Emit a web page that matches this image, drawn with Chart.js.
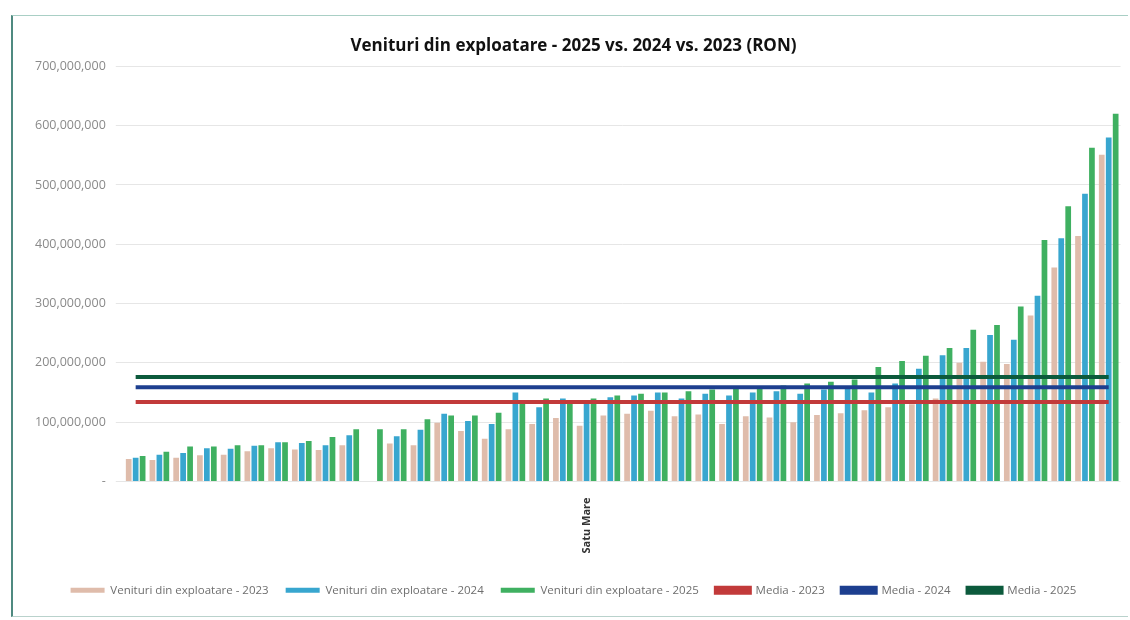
<!DOCTYPE html>
<html>
<head>
	<meta http-equiv="Content-Type" content="text/html; charset=utf-8">
	<title>Venituri din exploatare</title>
	<script src="https://cdn.jsdelivr.net/npm/chart.js@4"></script>
	<style>
		body { margin: 0; background: #ffffff; }
		#frame { position: absolute; left: 0; top: 0; width: 1130px; height: 620px; }
		#border { position: absolute; left: 11px; top: 15px; width: 1115px; height: 600px;
			border-left: 2px solid #4f8a80; border-top: 1px solid #a9cfc5; border-bottom: 1px solid #b9d2cc; }
	</style>
</head>
<body>
<div id="border"></div>
<div id="frame"><canvas id="chart" width="1130" height="620"></canvas></div>

<script>
// 42 categories (sorted by 2025 revenue), only one label readable
const categories = [
	"", "", "", "", "", "", "", "", "", "", "", "", "", "", "",
	"", "", "", "", "Satu Mare", "", "", "", "", "", "", "", "", "", "",
	"", "", "", "", "", "", "", "", "", "", "", ""
];

// values in RON
const venituri2023 = [
	38e6, 36e6, 40e6, 44e6, 45e6, 51e6, 56e6, 54e6, 53e6, 61e6,
	null, 64e6, 61e6, 99e6, 85e6, 72e6, 88e6, 97e6, 107e6, 94e6,
	111e6, 114e6, 119e6, 110e6, 113e6, 97e6, 110e6, 108e6, 100e6, 112e6,
	115e6, 120e6, 125e6, 130e6, 140e6, 200e6, 202e6, 198e6, 280e6, 361e6,
	414e6, 551e6
];
const venituri2024 = [
	40e6, 45e6, 48e6, 56e6, 55e6, 60e6, 66e6, 65e6, 61e6, 78e6,
	null, 76e6, 87e6, 114e6, 102e6, 97e6, 150e6, 125e6, 140e6, 135e6,
	142e6, 145e6, 150e6, 140e6, 148e6, 145e6, 150e6, 152e6, 148e6, 155e6,
	158e6, 150e6, 165e6, 190e6, 213e6, 225e6, 247e6, 239e6, 313e6, 410e6,
	485e6, 580e6
];
const venituri2025 = [
	43e6, 50e6, 59e6, 59e6, 61e6, 61e6, 66e6, 68e6, 75e6, 88e6,
	88e6, 88e6, 105e6, 111e6, 111e6, 116e6, 135e6, 140e6, 135e6, 140e6,
	145e6, 148e6, 150e6, 152e6, 155e6, 157e6, 160e6, 162e6, 165e6, 168e6,
	172e6, 193e6, 203e6, 212e6, 225e6, 256e6, 264e6, 295e6, 407e6, 464e6,
	563e6, 620e6
];

// averages (constant lines)
const media2023 = 134e6;
const media2024 = 159e6;
const media2025 = 176e6;

const yTicks = [0, 100e6, 200e6, 300e6, 400e6, 500e6, 600e6, 700e6];

function flat(v) {
	return Array(categories.length).fill(v);
}

const ctx = document.getElementById("chart");
new Chart(ctx, {
	type: "bar",
	data: {
		labels: categories,
		datasets: [
			{ label: "Venituri din exploatare - 2023", data: venituri2023,
			  backgroundColor: "#dfbcab", borderWidth: 0, order: 2 },
			{ label: "Venituri din exploatare - 2024", data: venituri2024,
			  backgroundColor: "#38a6cf", borderWidth: 0, order: 2 },
			{ label: "Venituri din exploatare - 2025", data: venituri2025,
			  backgroundColor: "#3fb061", borderWidth: 0, order: 2 },
			{ label: "Media - 2023", type: "line", data: flat(media2023),
			  borderColor: "#c23a3a", backgroundColor: "#c23a3a", borderWidth: 4, pointRadius: 0, order: 1 },
			{ label: "Media - 2024", type: "line", data: flat(media2024),
			  borderColor: "#1d3f8f", backgroundColor: "#1d3f8f", borderWidth: 4, pointRadius: 0, order: 1 },
			{ label: "Media - 2025", type: "line", data: flat(media2025),
			  borderColor: "#0c5a3c", backgroundColor: "#0c5a3c", borderWidth: 4, pointRadius: 0, order: 1 }
		]
	},
	options: {
		responsive: false,
		animation: false,
		layout: { padding: { left: 25, right: 8, top: 8, bottom: 14 } },
		datasets: { bar: { categoryPercentage: 0.88, barPercentage: 0.82 } },
		plugins: {
			title: {
				display: true,
				text: "Venituri din exploatare - 2025 vs. 2024 vs. 2023 (RON)",
				color: "#111111",
				font: { family: "'Open Sans'", size: 17, weight: "bold" },
				padding: { top: 28, bottom: 10 }
			},
			legend: {
				position: "bottom",
				labels: {
					boxWidth: 34, boxHeight: 5,
					color: "#6e6e6e",
					font: { family: "'Open Sans'", size: 11.5 },
					padding: 17,
					sort: (a, b) => a.datasetIndex - b.datasetIndex
				}
			},
			tooltip: { enabled: false }
		},
		scales: {
			x: {
				grid: { display: false },
				border: { display: false },
				afterFit: axis => { axis.height += 6; },
				ticks: {
					autoSkip: false, minRotation: 90, maxRotation: 90,
					padding: 8,
					color: "#333333",
					font: { family: "'Open Sans'", size: 11, weight: "bold" }
				}
			},
			y: {
				min: 0, max: 700e6,
				afterBuildTicks: axis => { axis.ticks = yTicks.map(v => ({ value: v })); },
				grid: { color: "#e6e6e6", lineWidth: 1 },
				border: { display: false },
				ticks: {
					color: "#8a8a8a",
					padding: 10,
					font: { family: "'Open Sans'", size: 12.5 },
					callback: v => v === 0 ? "-" : v.toLocaleString("en-US")
				}
			}
		}
	}
});
</script>
</body>
</html>
